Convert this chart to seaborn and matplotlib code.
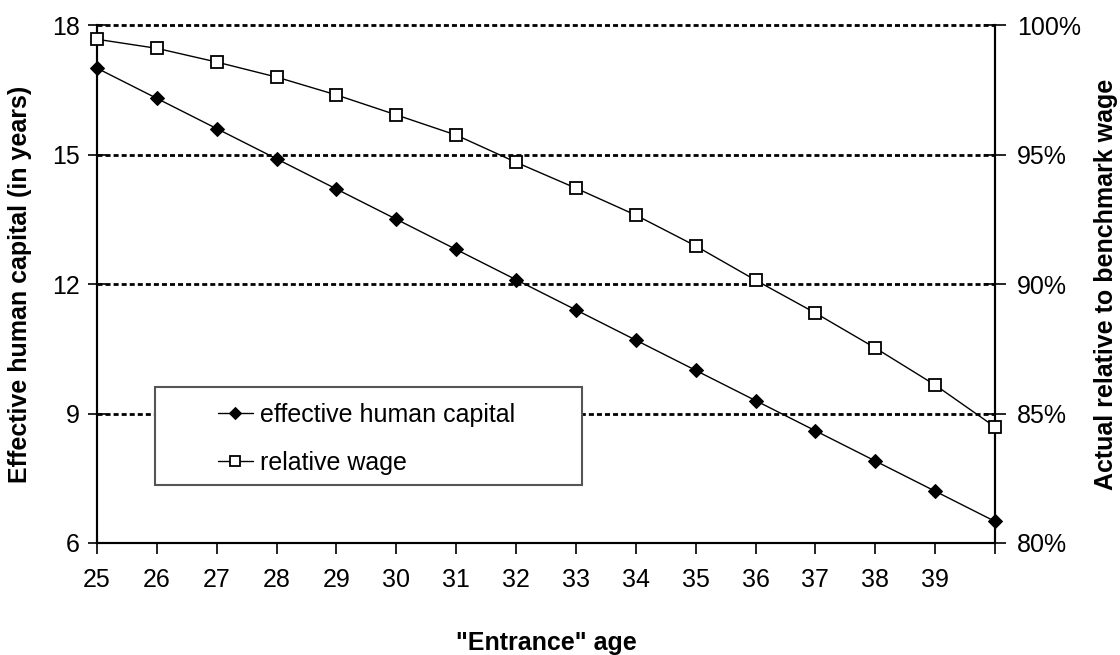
import numpy as np
import pandas as pd
import matplotlib
matplotlib.use("Agg")
import matplotlib.pyplot as plt
from matplotlib.patches import Rectangle
import seaborn as sns

ages = list(range(25, 41))
human_capital = [17.0, 16.3, 15.6, 14.9, 14.2, 13.5, 12.8, 12.1,
                 11.4, 10.7, 10.0, 9.3, 8.6, 7.9, 7.2, 6.5]
relative_wage = [99.45, 99.1, 98.57, 97.99, 97.3, 96.53, 95.75, 94.7,
                 93.7, 92.66, 91.47, 90.15, 88.88, 87.53, 86.1, 84.48]
x_labels = [str(a) for a in range(25, 40)] + [""]

sns.set_theme(style="white")
plt.rcParams["font.family"] = ["Liberation Sans", "DejaVu Sans"]
plt.rcParams["text.color"] = "black"
plt.rcParams["axes.labelcolor"] = "black"

df = pd.DataFrame({"age": ages, "hc": human_capital, "wage": relative_wage})

fig = plt.figure(figsize=(11.2, 6.55), dpi=100)
ax = fig.add_axes([0.0866, 0.171, 0.8018, 0.7908])
ax2 = ax.twinx()

# dotted grid lines
for v in [9, 12, 15, 18]:
    ax.axhline(v, color="black", ls=(0, (1.8, 1.1)), lw=2.0, zorder=0,
               clip_on=False)

sns.lineplot(data=df, x="age", y="hc", ax=ax, color="black", lw=1.0,
             marker="D", markersize=7, markerfacecolor="black",
             markeredgecolor="black", label="effective human capital",
             legend=False, zorder=3, clip_on=False)
sns.lineplot(data=df, x="age", y="wage", ax=ax2, color="black", lw=1.0,
             marker="s", markersize=8.2, markerfacecolor="white",
             markeredgecolor="black", markeredgewidth=1.3,
             label="relative wage", legend=False, zorder=3, clip_on=False)

ax.set_xlim(25, 40)
ax.set_ylim(6, 18)
ax2.set_ylim(80, 100)
ax.set_xticks(ages)
ax.set_xticklabels(x_labels)
ax.set_yticks([6, 9, 12, 15, 18])
ax2.set_yticks([80, 85, 90, 95, 100])
ax2.set_yticklabels(["80%", "85%", "90%", "95%", "100%"])

for a in (ax, ax2):
    a.spines["top"].set_visible(False)
    for s in ("left", "right", "bottom"):
        a.spines[s].set_color("black")
        a.spines[s].set_linewidth(1.5)
    a.tick_params(labelsize=18, colors="black", width=1.2)
ax.tick_params(axis="x", direction="out", bottom=True, length=8, pad=10)
ax.tick_params(axis="y", direction="inout", left=True, length=13, pad=6)
ax2.tick_params(axis="y", direction="inout", right=True, length=16, pad=8)

ax.set_xlabel('"Entrance" age', fontsize=18, fontweight="bold", labelpad=28,
              color="black")
ax.set_ylabel("Effective human capital (in years)", fontsize=18,
              fontweight="bold", labelpad=14, color="black")
ax2.set_ylabel("Actual relative to benchmark wage", fontsize=18,
               fontweight="bold", labelpad=9, color="black")

# legend box drawn by hand, legend entries without frame on top of it
box = Rectangle((0.0646, 0.112), 0.4754, 0.189, transform=ax2.transAxes,
                facecolor="white", edgecolor="#555555", lw=1.5, zorder=4)
ax2.add_patch(box)

h1, l1 = ax.get_legend_handles_labels()
h2, l2 = ax2.get_legend_handles_labels()
leg = ax2.legend(h1 + h2, l1 + l2, loc="center left",
                 bbox_to_anchor=(0.1347, 0.2008), fontsize=18, frameon=False,
                 borderpad=0, labelspacing=0.95, handlelength=1.4,
                 handletextpad=0.28, markerscale=0.85, borderaxespad=0)
leg.set_zorder(5)
for t in leg.get_texts():
    t.set_color("black")

fig.savefig("out.png", dpi=100, facecolor="white")
